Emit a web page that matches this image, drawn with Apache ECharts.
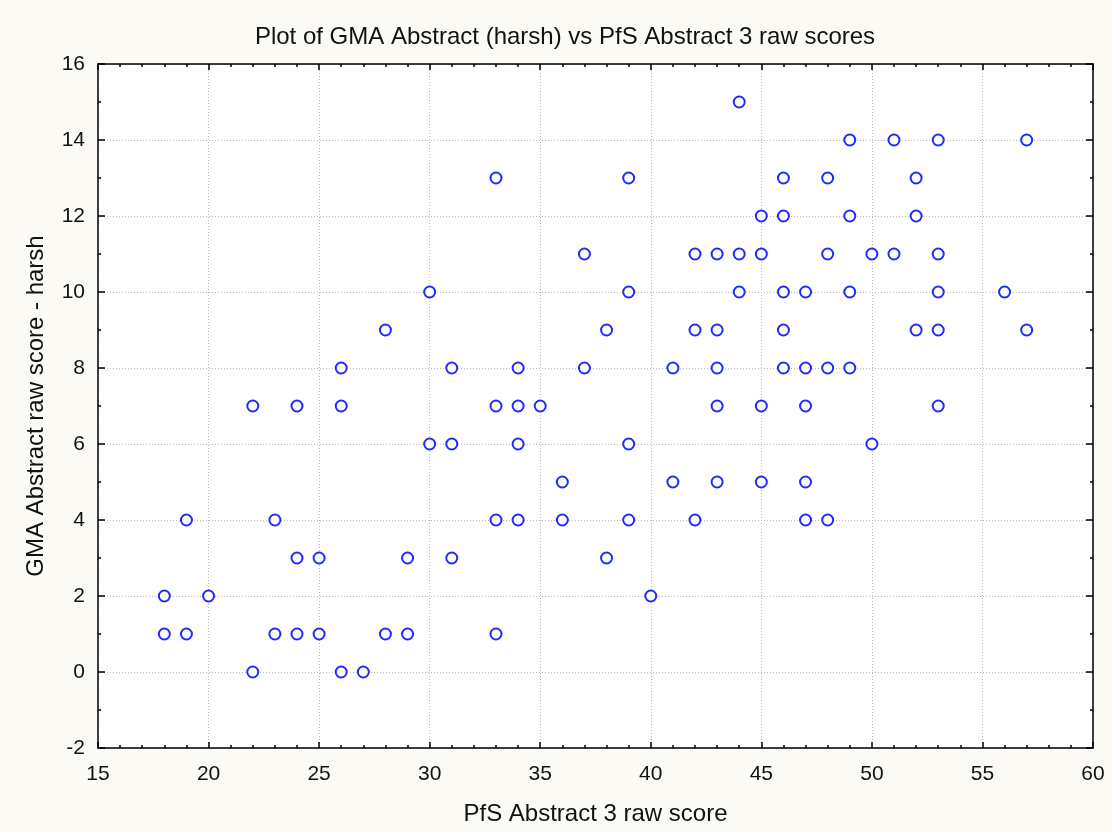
<!DOCTYPE html>
<html>
<head>
<meta charset="utf-8">
<script src="https://cdn.jsdelivr.net/npm/echarts@6/dist/echarts.min.js"></script>
<style>
html,body{margin:0;padding:0;background:#fcfaf4;}
#chart{width:1112px;height:832px;}
</style>
</head>
<body>
<div id="chart"></div>
<script>
// PfS Abstract 3 raw score (x) and GMA Abstract raw score - harsh (y)
const pfsScores = [
  44,
  49, 51, 53, 57,
  33, 39, 46, 48, 52,
  45, 46, 49, 52,
  37, 42, 43, 44, 45, 48, 50, 51, 53,
  30, 39, 44, 46, 47, 49, 53, 56,
  28, 38, 42, 43, 46, 52, 53, 57,
  26, 31, 34, 37, 41, 43, 46, 47, 48, 49,
  22, 24, 26, 33, 34, 35, 43, 45, 47, 53,
  30, 31, 34, 39, 50,
  36, 41, 43, 45, 47,
  19, 23, 33, 34, 36, 39, 42, 47, 48,
  24, 25, 29, 31, 38,
  18, 20, 40,
  18, 19, 23, 24, 25, 28, 29, 33,
  22, 26, 27
];
const gmaScores = [
  15,
  14, 14, 14, 14,
  13, 13, 13, 13, 13,
  12, 12, 12, 12,
  11, 11, 11, 11, 11, 11, 11, 11, 11,
  10, 10, 10, 10, 10, 10, 10, 10,
  9, 9, 9, 9, 9, 9, 9, 9,
  8, 8, 8, 8, 8, 8, 8, 8, 8, 8,
  7, 7, 7, 7, 7, 7, 7, 7, 7, 7,
  6, 6, 6, 6, 6,
  5, 5, 5, 5, 5,
  4, 4, 4, 4, 4, 4, 4, 4, 4,
  3, 3, 3, 3, 3,
  2, 2, 2,
  1, 1, 1, 1, 1, 1, 1, 1,
  0, 0, 0
];
const xTicks = [15, 20, 25, 30, 35, 40, 45, 50, 55, 60];
const yTicks = [-2, 0, 2, 4, 6, 8, 10, 12, 14, 16];

const titleText = 'Plot of GMA Abstract (harsh) vs PfS Abstract 3 raw scores';
const xName = 'PfS Abstract 3 raw score';
const yName = 'GMA Abstract raw score - harsh';

const points = pfsScores.map((x, i) => [x, gmaScores[i]]);

const font = 'Arial, "Liberation Sans", sans-serif';
const line = { show: true, onZero: false, lineStyle: { color: '#000', width: 1.5 } };
const xMin = xTicks[0], xMax = xTicks[xTicks.length - 1];
const yMin = yTicks[0], yMax = yTicks[yTicks.length - 1];

const chart = echarts.init(document.getElementById('chart'));
chart.setOption({
  backgroundColor: '#fcfaf4',
  animation: false,
  title: {
    text: titleText,
    left: 560, top: 20, textAlign: 'center',
    textStyle: { fontFamily: font, fontSize: 24, fontWeight: 'normal', color: '#111' }
  },
  grid: { left: 98, right: 19, top: 64, bottom: 84, show: true, backgroundColor: '#ffffff', borderWidth: 0 },
  xAxis: [{
    type: 'value', min: xMin, max: xMax, interval: 5, position: 'bottom',
    name: xName, nameLocation: 'middle', nameGap: 54,
    nameTextStyle: { fontFamily: font, fontSize: 24, color: '#111' },
    axisLine: line,
    axisTick: { show: true, inside: true, length: 6, lineStyle: { color: '#000', width: 1.5 } },
    minorTick: { show: true, splitNumber: 5, length: 3, lineStyle: { color: '#000', width: 1.5 } },
    axisLabel: { fontFamily: font, fontSize: 21, color: '#111', margin: 16 },
    splitLine: { show: true, lineStyle: { color: '#b8b8b8', type: [1, 2], width: 1 } }
  }, {
    type: 'value', min: xMin, max: xMax, interval: 5, position: 'top',
    axisLine: line,
    axisTick: { show: true, inside: true, length: 6, lineStyle: { color: '#000', width: 1.5 } },
    minorTick: { show: true, splitNumber: 5, length: 3, lineStyle: { color: '#000', width: 1.5 } },
    axisLabel: { show: false }, splitLine: { show: false }
  }],
  yAxis: [{
    type: 'value', min: yMin, max: yMax, interval: 2, position: 'left',
    name: yName, nameLocation: 'middle', nameGap: 50, nameRotate: 90,
    nameTextStyle: { fontFamily: font, fontSize: 24, color: '#111' },
    axisLine: line,
    axisTick: { show: true, inside: true, length: 7, lineStyle: { color: '#000', width: 1.5 } },
    minorTick: { show: true, splitNumber: 2, length: 3, lineStyle: { color: '#000', width: 1.5 } },
    axisLabel: { fontFamily: font, fontSize: 21, color: '#111', margin: 13 },
    splitLine: { show: true, lineStyle: { color: '#b8b8b8', type: [1, 2], width: 1 } }
  }, {
    type: 'value', min: yMin, max: yMax, interval: 2, position: 'right',
    axisLine: line,
    axisTick: { show: true, inside: true, length: 7, lineStyle: { color: '#000', width: 1.5 } },
    minorTick: { show: true, splitNumber: 2, length: 3, lineStyle: { color: '#000', width: 1.5 } },
    axisLabel: { show: false }, splitLine: { show: false }
  }],
  series: [{
    type: 'scatter',
    xAxisIndex: 0, yAxisIndex: 0,
    data: points,
    symbol: 'circle',
    symbolSize: 11,
    itemStyle: { color: '#ffffff', borderColor: '#1f2bff', borderWidth: 2, opacity: 1 }
  }]
});
</script>
</body>
</html>
